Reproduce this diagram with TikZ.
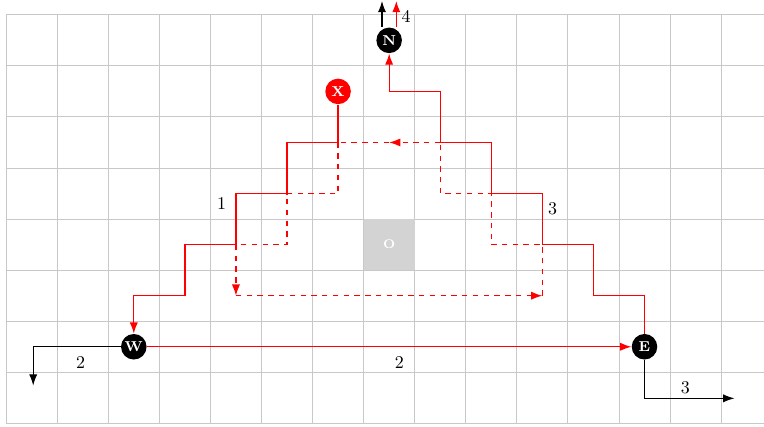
\documentclass[tikz,border=0pt]{standalone}
\usepackage{tikz}
\usetikzlibrary{arrows.meta, positioning}
\definecolor{gridGray}{RGB}{200,200,200}
\definecolor{oGray}{RGB}{211,211,211}

\begin{document}
\begin{tikzpicture}[
  dot/.style={circle, fill=black, text=white, minimum size=0.5cm, inner sep=0pt,
              font=\footnotesize\bfseries},
  reddot/.style={dot, fill=red},
  route/.style={draw=red, line width=0.7pt},
  detour/.style={draw=red, dashed, line width=0.7pt},
  tip/.style={-{Latex[length=2.2mm, width=1.6mm]}},
  exit/.style={draw=black, line width=0.6pt},
]
  \useasboundingbox (-0.12,-0.06) rectangle (14.84,8.29);
  \draw[gridGray, line width=0.5pt] (0,0) grid (14.84,8);

  \node[fill=oGray, minimum size=1cm, inner sep=0pt, text=white,
        font=\scriptsize\bfseries] (O) at (7.5,3.5) {O};

  \node[dot] (N) at (7.5,7.5) {N};
  \node[reddot] (X) at (6.5,6.5) {X};
  \node[dot] (W) at (2.5,1.5) {W};
  \node[dot] (E) at (12.5,1.5) {E};

  \coordinate (nLeft) at (7.36,8.27);
  \coordinate (nRight) at (7.64,8.27);
  \coordinate (wEnd) at (0.53,0.74);
  \coordinate (eEnd) at (14.26,0.49);

  % solid routes
  \draw[route, tip] (X) -- (6.5,5.5) -| (5.5,4.5) -| (4.5,3.5) -| (3.5,2.5) -| (W);
  \draw[route, tip] (E) |- (11.5,2.5) |- (10.5,3.5) |- (9.5,4.5) |- (8.5,5.5)
    |- (7.5,6.5) -- (N);
  \draw[route, tip] (W) -- (E);

  % dashed loop
  \draw[detour, tip] (6.5,5.5) -- (6.5,4.5) -| (5.5,3.5) -| (4.5,2.5);
  \draw[detour, tip] (4.5,2.5) -- (10.5,2.5);
  \draw[detour] (10.5,2.5) -- (10.5,3.5) -| (9.5,4.5) -| (8.5,5.5);
  \draw[detour, tip] (8.5,5.5) -- (7.5,5.5);
  \draw[detour] (7.5,5.5) -- (6.5,5.5);

  % exits
  \draw[exit, tip] (N.north -| nLeft) -- (nLeft);
  \draw[route, tip] (N.north -| nRight) -- (nRight);
  \draw[exit, tip] (W) -| (wEnd);
  \draw[exit, tip] (E) |- (eEnd);

  \node (lblN) at (7.83,7.97) {4};
  \node (lblX) at (4.22,4.3) {1};
  \node (lblE) at (10.7,4.2) {3};
  \node (lblWE) at (7.7,1.2) {2};
  \node (lblW) at (1.46,1.2) {2};
  \node (lblEx) at (13.3,0.7) {3};
\end{tikzpicture}
\end{document}
